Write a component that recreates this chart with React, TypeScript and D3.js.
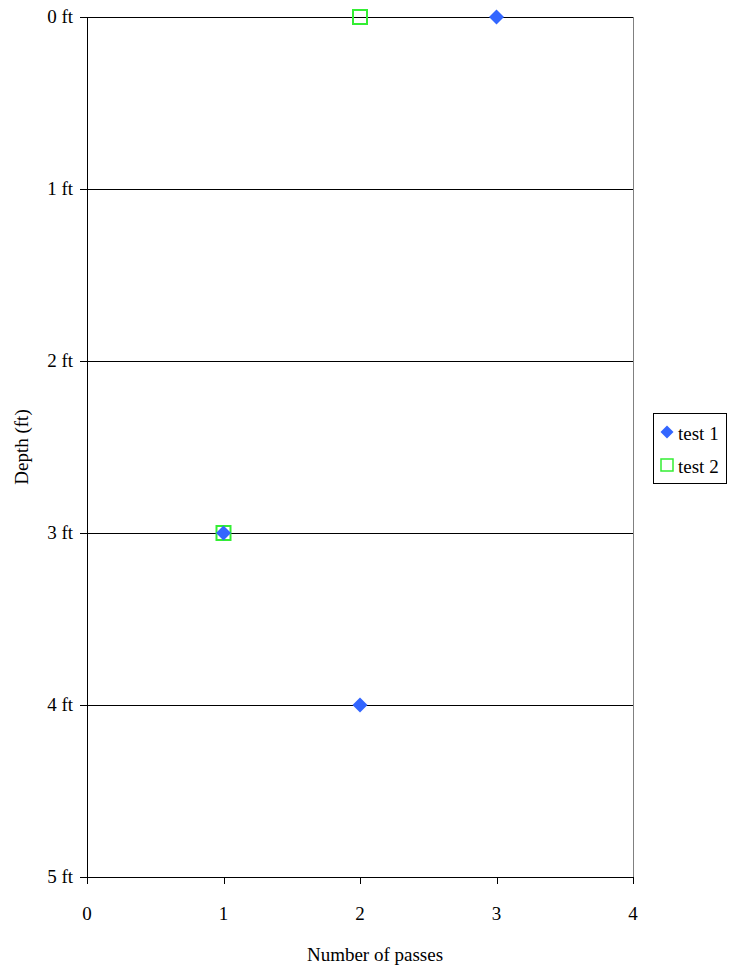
import React from "react";
import * as d3 from "d3";

const xTicks = [0, 1, 2, 3, 4];
const yTicks = [0, 1, 2, 3, 4, 5];
const yTickLabels = ["0 ft", "1 ft", "2 ft", "3 ft", "4 ft", "5 ft"];
const test1X = [3, 1, 2];
const test1Y = [0, 3, 4];
const test2X = [2, 1];
const test2Y = [0, 3];
const seriesNames = ["test 1", "test 2"];

const BLUE = "#3366FF";
const GREEN = "#33EE33";
const FONT = "Liberation Serif, Times New Roman, serif";
const FS = 19;

export default function App() {
  const left = 87, right = 633, top = 17, bottom = 877;
  const x = d3.scaleLinear().domain([0, 4]).range([left, right]);
  const y = d3.scaleLinear().domain([0, 5]).range([top, bottom]);
  const diamond = (cx: number, cy: number, r: number) =>
    `M${cx},${cy - r}L${cx + r},${cy}L${cx},${cy + r}L${cx - r},${cy}Z`;

  return (
    <svg width={730} height={971} style={{ position: "absolute", left: 0, top: 0 }}>
      <rect x={0} y={0} width={730} height={971} fill="#fff" />
      <line x1={right + 0.5} x2={right + 0.5} y1={top} y2={bottom} stroke="#808080" />
      {yTicks.map((t) => (
        <line key={"g" + t} x1={left - 7} x2={right} y1={Math.round(y(t)) + 0.5} y2={Math.round(y(t)) + 0.5} stroke="#000" />
      ))}
      <line x1={left + 0.5} x2={left + 0.5} y1={top} y2={bottom} stroke="#000" />
      {xTicks.map((t) => (
        <line key={"xt" + t} x1={Math.round(x(t)) + 0.5} x2={Math.round(x(t)) + 0.5} y1={bottom} y2={bottom + 7} stroke="#000" />
      ))}
      {xTicks.map((t) => (
        <text key={"xl" + t} x={x(t)} y={920} textAnchor="middle" fontSize={FS} fontFamily={FONT}>{t}</text>
      ))}
      {yTicks.map((t, i) => (
        <text key={"yl" + t} x={73} y={y(t) + 6} textAnchor="end" fontSize={FS} fontFamily={FONT}>{yTickLabels[i]}</text>
      ))}
      <text x={375} y={961} textAnchor="middle" fontSize={FS} fontFamily={FONT}>Number of passes</text>
      <text transform={`translate(28,447) rotate(-90)`} textAnchor="middle" fontSize={FS} fontFamily={FONT}>Depth (ft)</text>
      {test2X.map((v, i) => (
        <rect key={"s" + i} x={x(v) - 7} y={y(test2Y[i]) - 7} width={14} height={14} fill="none" stroke={GREEN} strokeWidth={2} />
      ))}
      {test1X.map((v, i) => (
        <path key={"d" + i} d={diamond(x(v), y(test1Y[i]), 7.5)} fill={BLUE} />
      ))}
      <rect x={653.5} y={413.5} width={73} height={70} fill="#fff" stroke="#000" />
      <path d={diamond(667, 432, 6.5)} fill={BLUE} />
      <text x={678} y={440} fontSize={FS} fontFamily={FONT}>{seriesNames[0]}</text>
      <rect x={661} y={459} width={12} height={12} fill="none" stroke={GREEN} strokeWidth={1.5} />
      <text x={678} y={473} fontSize={FS} fontFamily={FONT}>{seriesNames[1]}</text>
    </svg>
  );
}
